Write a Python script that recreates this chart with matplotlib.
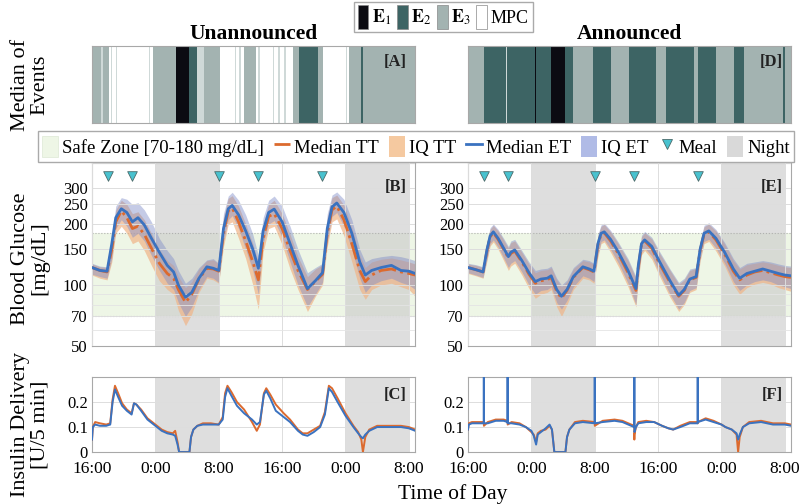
import matplotlib
matplotlib.use("Agg")
import matplotlib.pyplot as plt
from matplotlib.patches import Patch
from matplotlib.lines import Line2D

plt.rcParams['font.family'] = ['Liberation Serif', 'DejaVu Serif']
plt.rcParams['mathtext.fontset'] = 'stix'

# ---------------- data ----------------
X_MAX = 40.8
tick_hours = [0, 8, 16, 24, 32, 40]
tick_labels = ['16:00', '0:00', '8:00', '16:00', '0:00', '8:00']
nights = [(8, 16), (32, 40)]
meal_hours = [2, 5, 16, 21, 29]
meal_level = 345

# event stripes: start hour and code (0 MPC, 1 E1, 2 E2, 3 E3, 4 thin/light E3)
ev_ua_start = [0.0, 1.1, 1.4, 2.2, 2.4, 2.55, 3.0, 3.15, 7.2, 7.35, 7.7, 10.6, 12.2, 13.3, 14.2,
               16.2, 18.0, 18.15, 18.6, 18.75, 19.2, 20.7, 21.0, 21.2, 22.8, 23.0, 23.5, 23.7,
               24.3, 24.5, 25.4, 26.1, 28.5, 29.1, 32.1, 32.25, 32.5, 34.0, 34.25]
ev_ua_code = [3, 4, 3, 0, 4, 0, 4, 0, 4, 0, 3, 1, 2, 4, 3,
              0, 4, 0, 4, 0, 3, 0, 4, 0, 4, 0, 4, 0,
              4, 0, 3, 2, 3, 0, 4, 0, 3, 2, 3]
ev_an_start = [0.0, 2.0, 4.8, 4.9, 8.4, 8.55, 10.5, 12.3, 13.3, 15.8, 18.1, 20.3, 23.7, 25.0,
               28.5, 29.0, 31.3, 33.6, 34.8, 39.8, 40.0]
ev_an_code = [3, 2, 4, 2, 1, 2, 1, 2, 3, 2, 3, 2, 3, 2,
              3, 2, 3, 2, 3, 2, 3]

# glucose, unannounced
t_gu = [0, 1.0, 1.9, 2.5, 3.0, 3.7, 4.4, 5.1, 5.8, 6.6, 7.5, 8.5, 9.5, 10.3, 10.9, 11.8, 12.6,
        13.5, 14.5, 15.3, 16.0, 16.6, 17.2, 17.7, 18.5, 19.4, 20.3, 21.0, 21.6, 22.3, 23.0,
        24.0, 25.0, 26.0, 27.2, 28.2, 29.1, 29.7, 30.3, 30.9, 31.8, 32.8, 33.8, 34.5, 35.3,
        36.5, 37.8, 39.0, 40.0, 40.8]
et_gu = [122, 118, 117, 160, 215, 238, 228, 205, 215, 198, 170, 145, 125, 116, 100, 87, 92,
         108, 123, 121, 118, 190, 238, 247, 222, 185, 150, 121, 185, 228, 237,
         205, 160, 125, 96, 105, 115, 190, 243, 254, 228, 180, 130, 112, 118,
         122, 125, 118, 117, 114]
tt_gu = [122, 118, 116, 150, 205, 232, 215, 190, 195, 178, 152, 128, 114, 108, 95, 82, 90,
         107, 121, 120, 117, 180, 232, 240, 205, 165, 130, 106, 170, 218, 225,
         190, 148, 118, 95, 104, 113, 180, 235, 245, 210, 160, 118, 104, 112,
         118, 120, 116, 114, 112]
et_gu_lo = [113, 110, 108, 135, 190, 210, 195, 172, 180, 165, 140, 118, 102, 95, 82, 70, 78,
            95, 110, 108, 103, 165, 210, 220, 190, 150, 118, 90, 160, 200, 208,
            172, 130, 100, 78, 90, 103, 165, 218, 228, 195, 150, 108, 92, 100,
            105, 108, 103, 100, 95]
et_gu_hi = [128, 124, 123, 175, 245, 270, 265, 250, 255, 235, 205, 170, 148, 135, 118, 102, 108,
            122, 133, 135, 128, 225, 275, 287, 262, 222, 178, 140, 215, 262, 275,
            245, 195, 150, 115, 122, 128, 225, 278, 288, 265, 210, 150, 130, 135,
            138, 140, 138, 135, 132]
tt_gu_lo = [112, 108, 106, 130, 180, 195, 180, 160, 165, 148, 125, 105, 95, 90, 75, 63, 72,
            92, 108, 106, 102, 155, 200, 205, 170, 135, 100, 76, 145, 190, 195,
            158, 120, 95, 74, 88, 100, 155, 205, 212, 175, 130, 95, 85, 95,
            100, 102, 98, 95, 88]
tt_gu_hi = [127, 123, 122, 170, 235, 262, 250, 225, 230, 210, 180, 150, 132, 125, 110, 97, 104,
            120, 132, 133, 127, 215, 268, 276, 245, 200, 160, 130, 200, 250, 262,
            225, 178, 138, 110, 120, 126, 215, 270, 278, 248, 192, 140, 122, 130,
            134, 136, 133, 130, 127]

# glucose, announced
t_ga = [0, 1.0, 1.9, 2.4, 2.8, 3.2, 3.8, 4.5, 5.1, 5.4, 5.9, 6.8, 7.7, 8.5, 9.2, 10.0, 10.5,
        11.2, 11.8, 12.5, 13.3, 14.5, 15.3, 15.9, 16.4, 16.8, 17.2, 18.0, 19.0, 20.2, 21.2,
        21.5, 21.9, 22.3, 23.2, 24.2, 25.5, 26.6, 27.3, 28.0, 28.8, 29.3, 29.8, 30.4, 31.3,
        32.4, 33.5, 34.3, 35.2, 36.2, 37.2, 38.2, 39.2, 40.0, 40.8]
et_ga = [122, 119, 116, 150, 175, 183, 170, 152, 138, 145, 149, 132, 115, 104, 107, 108, 111,
         95, 88, 95, 110, 123, 120, 117, 160, 180, 183, 168, 145, 118, 96,
         125, 160, 167, 155, 130, 105, 89, 95, 107, 110, 150, 180, 185, 170,
         145, 120, 108, 114, 117, 120, 117, 114, 112, 111]
tt_ga = [122, 119, 116, 148, 173, 181, 168, 150, 136, 143, 147, 130, 113, 102, 105, 106, 109,
         93, 86, 94, 109, 122, 119, 116, 158, 178, 181, 165, 142, 115, 94,
         122, 158, 165, 152, 127, 103, 88, 94, 106, 109, 148, 178, 183, 167,
         142, 117, 106, 112, 116, 118, 115, 112, 110, 109]
et_ga_lo = [115, 112, 109, 135, 160, 167, 154, 136, 122, 128, 132, 116, 100, 90, 94, 95, 98,
            82, 76, 84, 98, 111, 108, 104, 142, 164, 167, 150, 128, 102, 80,
            110, 145, 152, 139, 114, 90, 76, 82, 94, 97, 135, 164, 168, 152,
            128, 104, 94, 100, 104, 106, 104, 100, 98, 96]
et_ga_hi = [128, 126, 123, 165, 192, 200, 188, 170, 155, 165, 168, 148, 130, 118, 120, 121, 124,
            108, 100, 106, 122, 134, 132, 128, 178, 198, 202, 186, 162, 135, 110,
            138, 176, 184, 172, 146, 120, 103, 108, 120, 122, 165, 197, 203, 188,
            162, 135, 122, 128, 130, 132, 130, 127, 125, 124]
tt_ga_lo = [114, 111, 108, 132, 156, 163, 150, 132, 118, 124, 128, 112, 96, 86, 90, 92, 95,
            78, 70, 80, 95, 108, 106, 102, 138, 160, 163, 145, 123, 98, 78,
            106, 141, 148, 134, 110, 87, 74, 80, 92, 95, 131, 160, 164, 147,
            124, 100, 90, 97, 101, 103, 101, 97, 95, 93]
tt_ga_hi = [127, 125, 122, 162, 189, 197, 185, 167, 152, 162, 165, 145, 127, 115, 118, 119, 122,
            106, 98, 104, 120, 132, 130, 127, 175, 195, 199, 183, 159, 132, 108,
            135, 173, 181, 169, 143, 118, 101, 106, 118, 121, 162, 194, 200, 185,
            159, 132, 120, 126, 128, 130, 128, 125, 123, 122]

# insulin, unannounced
t_iu = [0, 0.1, 0.4, 1.0, 1.8, 2.3, 2.6, 2.9, 3.3, 3.8, 4.4, 5.0, 5.3, 5.6, 6.2, 7.0, 8.0, 8.8,
        9.5, 10.2, 10.5, 10.8, 11.0, 12.3, 12.5, 12.8, 13.3, 14.0, 15.0, 16.0, 16.5, 16.8, 17.1,
        17.6, 18.3, 19.2, 20.2, 20.8, 21.2, 21.7, 22.0, 22.5, 23.2, 24.2, 25.0, 26.0, 26.6, 27.2,
        28.0, 28.8, 29.4, 29.9, 30.3, 31.0, 32.0, 33.0, 33.6, 34.0, 34.2, 34.5, 35.0, 36.0, 37.5,
        39.0, 40.0, 40.8]
et_iu = [0.05, 0.10, 0.11, 0.105, 0.105, 0.11, 0.20, 0.25, 0.22, 0.185, 0.165, 0.15, 0.195, 0.19,
         0.165, 0.13, 0.105, 0.085, 0.075, 0.07, 0.065, 0.03, 0.0, 0.0, 0.06, 0.09, 0.105, 0.11,
         0.11, 0.11, 0.13, 0.22, 0.255, 0.225, 0.185, 0.155, 0.13, 0.11, 0.12, 0.23, 0.245, 0.215,
         0.165, 0.14, 0.12, 0.085, 0.07, 0.065, 0.08, 0.10, 0.15, 0.255, 0.24, 0.20, 0.145, 0.10,
         0.075, 0.06, 0.055, 0.07, 0.085, 0.10, 0.10, 0.10, 0.095, 0.085]
tt_iu = [0.05, 0.10, 0.12, 0.115, 0.11, 0.115, 0.21, 0.265, 0.235, 0.195, 0.17, 0.155, 0.195, 0.19,
         0.17, 0.135, 0.11, 0.09, 0.08, 0.075, 0.085, 0.04, 0.0, 0.0, 0.06, 0.09, 0.105, 0.115,
         0.115, 0.11, 0.14, 0.235, 0.265, 0.24, 0.20, 0.17, 0.12, 0.085, 0.11, 0.235, 0.255, 0.23,
         0.19, 0.155, 0.13, 0.09, 0.075, 0.075, 0.09, 0.105, 0.16, 0.265, 0.255, 0.215, 0.155, 0.105,
         0.08, 0.05, 0.0, 0.06, 0.09, 0.105, 0.105, 0.105, 0.10, 0.09]

# insulin, announced (boluses appear as spikes above the axis)
t_ia = [0, 0.1, 0.5, 1.0, 1.99, 2.0, 2.01, 2.5, 3.5, 4.5, 4.99, 5.0, 5.01, 5.5, 6.5, 7.3, 8.0, 8.3,
        8.6, 8.8, 9.2, 9.8, 10.3, 10.6, 10.9, 12.3, 12.5, 12.8, 13.5, 14.5, 15.99, 16.0, 16.01, 17.0,
        18.5, 19.5, 20.6, 20.99, 21.0, 21.01, 21.2, 21.5, 22.5, 23.5, 24.5, 25.3, 25.9, 26.8, 28.0,
        28.99, 29.0, 29.01, 30.0, 31.0, 32.0, 32.5, 33.3, 33.9, 34.1, 34.3, 34.7, 35.5, 37.0, 38.5,
        40.0, 40.8]
et_ia = [0.09, 0.11, 0.115, 0.115, 0.115, 0.5, 0.115, 0.115, 0.125, 0.125, 0.12, 0.5, 0.115, 0.115,
         0.11, 0.10, 0.085, 0.065, 0.03, 0.07, 0.08, 0.095, 0.11, 0.09, 0.0, 0.0, 0.06, 0.09, 0.115,
         0.12, 0.115, 0.5, 0.115, 0.12, 0.125, 0.12, 0.105, 0.10, 0.5, 0.08, 0.10, 0.115, 0.12, 0.12,
         0.105, 0.095, 0.09, 0.10, 0.115, 0.115, 0.5, 0.12, 0.13, 0.12, 0.11, 0.10, 0.09, 0.075,
         0.05, 0.07, 0.10, 0.115, 0.12, 0.11, 0.11, 0.105]
tt_ia = [0.09, 0.115, 0.12, 0.12, 0.12, 0.115, 0.105, 0.12, 0.13, 0.13, 0.125, 0.115, 0.11, 0.12,
         0.115, 0.10, 0.08, 0.07, 0.04, 0.075, 0.085, 0.09, 0.105, 0.09, 0.0, 0.0, 0.06, 0.09, 0.12,
         0.125, 0.12, 0.11, 0.105, 0.125, 0.13, 0.125, 0.11, 0.105, 0.05, 0.07, 0.10, 0.12, 0.125,
         0.12, 0.105, 0.095, 0.09, 0.105, 0.12, 0.12, 0.115, 0.12, 0.135, 0.125, 0.11, 0.10, 0.09,
         0.07, 0.0, 0.06, 0.10, 0.12, 0.125, 0.115, 0.115, 0.11]

# ---------------- style ----------------
EV_COLORS = {0: 'white', 1: '#0b0b12', 2: '#3d6464', 3: '#a3b3b1', 4: '#cfd9d8'}
C_ET = '#3a72c0'
C_TT = '#dc6a2e'
C_IQ_ET = '#7f8cc8'
C_IQ_TT = '#f0b487'
C_SAFE = '#eef6e6'
C_NIGHT = '#c8c8c8'
C_MEAL = '#48c2cf'
C_SPINE = '#a8a8a8'

fig = plt.figure(figsize=(8, 5.04), dpi=100)

L1, L2, W = 0.115, 0.585, 0.404
ax_a = fig.add_axes([L1, 0.756, W, 0.153])
ax_d = fig.add_axes([L2, 0.756, W, 0.153])
ax_b = fig.add_axes([L1, 0.3135, W, 0.363])
ax_e = fig.add_axes([L2, 0.3135, W, 0.363])
ax_c = fig.add_axes([L1, 0.103, W, 0.149])
ax_f = fig.add_axes([L2, 0.103, W, 0.149])


def style_spines(ax):
    for s in ax.spines.values():
        s.set_color(C_SPINE)
        s.set_linewidth(0.8)


def draw_events(ax, starts, codes, label, title):
    ends = starts[1:] + [X_MAX]
    for s, e, c in zip(starts, ends, codes):
        ax.axvspan(s, e, color=EV_COLORS[c], lw=0)
    ax.set_xlim(0, X_MAX)
    ax.set_ylim(0, 1)
    ax.set_xticks([])
    ax.set_yticks([])
    style_spines(ax)
    ax.set_title(title, fontsize=15.5, fontweight='bold', pad=5)
    ax.text(0.975, 0.79, label, transform=ax.transAxes, ha='right', va='center',
            fontsize=12, fontweight='bold', color='#222222')


def draw_glucose(ax, t, et, tt, et_lo, et_hi, tt_lo, tt_hi, label):
    ax.axhspan(70, 180, color=C_SAFE, zorder=0, lw=0)
    for n0, n1 in nights:
        ax.axvspan(n0, n1, color=C_NIGHT, alpha=0.6, zorder=0.5, lw=0)
    ax.axhline(180, color='#b0b0b0', ls=':', lw=0.8, zorder=0.6)
    ax.axhline(70, color='#b0b0b0', ls=':', lw=0.8, zorder=0.6)
    ax.fill_between(t, tt_lo, tt_hi, color=C_IQ_TT, alpha=0.7, lw=0, zorder=2)
    ax.fill_between(t, et_lo, et_hi, color=C_IQ_ET, alpha=0.45, lw=0, zorder=2.1)
    ax.plot(t, tt, color=C_TT, ls='-.', lw=2, zorder=3)
    ax.plot(t, et, color=C_ET, lw=2, zorder=3.1)
    ax.scatter(meal_hours, [meal_level] * len(meal_hours), marker='v', s=48,
               color=C_MEAL, edgecolor='#4a6a6a', linewidth=0.6, zorder=4)
    ax.set_yscale('log')
    ax.set_ylim(50, 400)
    ax.set_xlim(0, X_MAX)
    ax.set_yticks([50, 70, 100, 150, 200, 250, 300])
    ax.set_yticklabels(['50', '70', '100', '150', '200', '250', '300'])
    ax.set_yticks([60, 80, 90, 400], minor=True)
    ax.yaxis.set_minor_formatter(plt.NullFormatter())
    ax.set_xticks(tick_hours)
    ax.set_xticklabels([])
    ax.grid(True, which='major', color='#dddddd', lw=0.7, zorder=0.7)
    ax.grid(True, which='minor', axis='y', color='#e4e4e4', lw=0.6, zorder=0.7)
    ax.set_axisbelow(False)
    ax.tick_params(which='both', length=0, labelsize=12, pad=3)
    style_spines(ax)
    ax.text(0.975, 0.87, label, transform=ax.transAxes, ha='right', va='center',
            fontsize=12, fontweight='bold', color='#222222', zorder=5)


def draw_insulin(ax, t, et, tt, label):
    for n0, n1 in nights:
        ax.axvspan(n0, n1, color=C_NIGHT, alpha=0.6, zorder=0.5, lw=0)
    ax.plot(t, tt, color=C_TT, lw=1.4, zorder=3)
    ax.plot(t, et, color=C_ET, lw=1.4, zorder=3.1)
    ax.set_xlim(0, X_MAX)
    ax.set_ylim(0, 0.3)
    ax.set_yticks([0, 0.1, 0.2])
    ax.set_yticklabels(['0', '0.1', '0.2'])
    ax.set_xticks(tick_hours)
    ax.set_xticklabels(tick_labels)
    ax.grid(True, color='#dddddd', lw=0.7, zorder=0.7)
    ax.tick_params(axis='y', length=0, labelsize=12, pad=3)
    ax.tick_params(axis='x', length=0, labelsize=12.5, pad=6.5)
    style_spines(ax)
    ax.text(0.975, 0.76, label, transform=ax.transAxes, ha='right', va='center',
            fontsize=12, fontweight='bold', color='#222222', zorder=5)


draw_events(ax_a, ev_ua_start, ev_ua_code, '[A]', 'Unannounced')
draw_events(ax_d, ev_an_start, ev_an_code, '[D]', 'Announced')
draw_glucose(ax_b, t_gu, et_gu, tt_gu, et_gu_lo, et_gu_hi, tt_gu_lo, tt_gu_hi, '[B]')
draw_glucose(ax_e, t_ga, et_ga, tt_ga, et_ga_lo, et_ga_hi, tt_ga_lo, tt_ga_hi, '[E]')
draw_insulin(ax_c, t_iu, et_iu, tt_iu, '[C]')
draw_insulin(ax_f, t_ia, et_ia, tt_ia, '[F]')

# row labels
fig.text(0.038, 0.832, 'Median of\nEvents', rotation=90, ha='center', va='center',
         fontsize=16, linespacing=1.05, multialignment='center')
fig.text(0.038, 0.487, 'Blood Glucose\n[mg/dL]', rotation=90, ha='center', va='center',
         fontsize=16, linespacing=1.05, multialignment='center')
fig.text(0.038, 0.157, 'Insulin Delivery\n[U/5 min]', rotation=90, ha='center', va='center',
         fontsize=16, linespacing=1.05, multialignment='center')
fig.text(0.566, 0.02, 'Time of Day', ha='center', va='center', fontsize=15.5)

# event legend
ev_handles = [Patch(facecolor=EV_COLORS[1], edgecolor='#888888', lw=0.5),
              Patch(facecolor=EV_COLORS[2], edgecolor='#888888', lw=0.5),
              Patch(facecolor=EV_COLORS[3], edgecolor='#888888', lw=0.5),
              Patch(facecolor='white', edgecolor='#888888', lw=0.5)]
ev_labels = [r'$\mathbf{E}_{1}$', r'$\mathbf{E}_{2}$', r'$\mathbf{E}_{3}$', 'MPC']
fig.legend(ev_handles, ev_labels, loc='upper center', bbox_to_anchor=(0.554, 1.0), ncol=4,
           fontsize=13, handlelength=0.6, handleheight=1.6, handletextpad=0.2,
           columnspacing=0.3, borderpad=0.2, borderaxespad=0.1, fancybox=False,
           edgecolor='#aaaaaa', framealpha=1)

# main legend
main_handles = [Patch(facecolor=C_SAFE, edgecolor='#dde8d5', lw=0.5),
                Line2D([], [], color=C_TT, ls='-.', lw=2),
                Patch(facecolor='#f5c9a0', lw=0),
                Line2D([], [], color=C_ET, lw=2),
                Patch(facecolor='#b0bbe6', lw=0),
                Line2D([], [], ls='none', marker='v', markersize=7, markerfacecolor=C_MEAL,
                       markeredgecolor='#4a6a6a', markeredgewidth=0.6),
                Patch(facecolor='#d9d9d9', lw=0)]
main_labels = ['Safe Zone [70-180 mg/dL]', 'Median TT', 'IQ TT', 'Median ET', 'IQ ET',
               'Meal', 'Night']
fig.legend(main_handles, main_labels, loc='upper center', bbox_to_anchor=(0.52, 0.744), ncol=7,
           fontsize=13.5, handlelength=0.85, handleheight=1.4, handletextpad=0.2,
           columnspacing=0.55, borderpad=0.25, borderaxespad=0.1, fancybox=False,
           edgecolor='#aaaaaa', framealpha=1)

fig.savefig('out.png', dpi=100)
plt.close(fig)
